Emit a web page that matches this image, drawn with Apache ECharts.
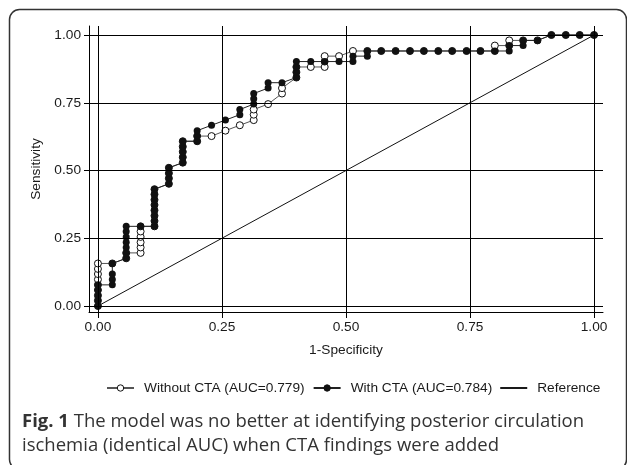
<!DOCTYPE html>
<html><head><meta charset="utf-8">
<script src="https://cdn.jsdelivr.net/npm/echarts@6/dist/echarts.min.js"></script>
<style>html,body{margin:0;padding:0;background:#fff}#c{width:627px;height:465px}</style>
</head><body><div id="c"></div><script>
// ---- data ----
const tickValues = [0, 0.25, 0.5, 0.75, 1];
const tickLabels = ['0.00', '0.25', '0.50', '0.75', '1.00'];
const seriesNames = ['Without CTA (AUC=0.779)', 'With CTA (AUC=0.784)', 'Reference'];
// [1-specificity, sensitivity]
const withoutCTA = [
  [0,0],[0,0.020],[0,0.039],[0,0.059],[0,0.078],[0,0.098],[0,0.118],[0,0.137],[0,0.157],
  [0.029,0.157],
  [0.057,0.176],[0.057,0.196],
  [0.086,0.196],[0.086,0.216],[0.086,0.235],[0.086,0.255],[0.086,0.275],[0.086,0.294],
  [0.114,0.294],[0.114,0.314],[0.114,0.333],[0.114,0.353],[0.114,0.373],[0.114,0.392],[0.114,0.412],[0.114,0.431],
  [0.143,0.451],[0.143,0.471],[0.143,0.490],[0.143,0.510],
  [0.171,0.529],[0.171,0.549],[0.171,0.569],[0.171,0.588],[0.171,0.608],
  [0.200,0.608],[0.200,0.627],
  [0.229,0.627],
  [0.257,0.647],
  [0.286,0.667],
  [0.314,0.686],[0.314,0.706],[0.314,0.725],
  [0.343,0.745],
  [0.371,0.784],[0.371,0.804],
  [0.400,0.843],[0.400,0.863],[0.400,0.882],
  [0.429,0.882],
  [0.457,0.882],[0.457,0.902],[0.457,0.922],
  [0.486,0.922],
  [0.514,0.941],[0.543,0.941],[0.571,0.941],[0.600,0.941],[0.629,0.941],[0.657,0.941],[0.686,0.941],[0.714,0.941],[0.743,0.941],[0.771,0.941],
  [0.800,0.941],[0.800,0.961],
  [0.829,0.961],[0.829,0.980],
  [0.857,0.980],[0.886,0.980],
  [0.914,1],[0.943,1],[0.971,1],[1,1]
];
const withCTA = [
  [0,0],[0,0.020],[0,0.039],[0,0.059],[0,0.078],
  [0.029,0.078],[0.029,0.098],[0.029,0.118],[0.029,0.157],
  [0.057,0.176],[0.057,0.196],[0.057,0.216],[0.057,0.235],[0.057,0.255],[0.057,0.275],[0.057,0.294],
  [0.086,0.294],
  [0.114,0.294],[0.114,0.314],[0.114,0.333],[0.114,0.353],[0.114,0.373],[0.114,0.392],[0.114,0.412],[0.114,0.431],
  [0.143,0.451],[0.143,0.471],[0.143,0.490],[0.143,0.510],
  [0.171,0.529],[0.171,0.549],[0.171,0.569],[0.171,0.588],[0.171,0.608],
  [0.200,0.608],[0.200,0.627],[0.200,0.647],
  [0.229,0.667],
  [0.257,0.686],
  [0.286,0.706],[0.286,0.725],
  [0.314,0.745],[0.314,0.765],[0.314,0.784],
  [0.343,0.804],[0.343,0.824],
  [0.371,0.824],
  [0.400,0.843],[0.400,0.863],[0.400,0.882],[0.400,0.902],
  [0.429,0.902],[0.457,0.902],[0.486,0.902],
  [0.514,0.902],[0.514,0.922],
  [0.543,0.922],[0.543,0.941],
  [0.571,0.941],[0.600,0.941],[0.629,0.941],[0.657,0.941],[0.686,0.941],[0.714,0.941],[0.743,0.941],[0.771,0.941],[0.800,0.941],
  [0.829,0.941],[0.829,0.961],
  [0.857,0.961],[0.857,0.980],
  [0.886,0.980],
  [0.914,1],[0.943,1],[0.971,1],[1,1]
];
const reference = [[0,0],[1,1]];
const captionBold = 'Fig. 1';
const captionLines = [
  ' The model was no better at identifying posterior circulation',
  'ischemia (identical AUC) when CTA findings were added'
];

// ---- chart ----
const chart = echarts.init(document.getElementById('c'), null, {renderer: 'canvas'});
const font = "'Liberation Sans', Arial, Helvetica, sans-serif";
const ink = '#1a1a1a';
const fs = 13.7;
const labelFmt = v => {
  const i = tickValues.findIndex(t => Math.abs(t - v) < 1e-9);
  return i >= 0 ? tickLabels[i] : '';
};
const axisCommon = {
  type: 'value',
  nameLocation: 'middle',
  nameTextStyle: {fontSize: fs, fontFamily: font, color: ink},
  axisLine: {show: true, onZero: false, lineStyle: {color: '#000', width: 1}},
  axisTick: {show: true, customValues: tickValues, lineStyle: {color: '#000', width: 1}},
  axisLabel: {customValues: tickValues, formatter: labelFmt, fontSize: fs, fontFamily: font, color: ink},
  splitLine: {show: false}
};
const option = {
  animation: false,
  backgroundColor: '#fff',
  grid: {left: 89, right: 24, top: 26, bottom: 153, outerBoundsMode: 'none'},
  xAxis: Object.assign({}, axisCommon, {
    min: -0.018, max: 1.018, name: '1-Specificity', nameGap: 31,
    axisTick: Object.assign({}, axisCommon.axisTick, {length: 6}),
    axisLabel: Object.assign({}, axisCommon.axisLabel, {margin: 8})
  }),
  yAxis: Object.assign({}, axisCommon, {
    min: -0.0221, max: 1.0332, name: 'Sensitivity', nameGap: 34,
    axisTick: Object.assign({}, axisCommon.axisTick, {length: 5}),
    axisLabel: Object.assign({}, axisCommon.axisLabel, {margin: 8})
  }),
  legend: {
    left: 101, top: 376, itemWidth: 27, itemHeight: 8, itemGap: 8,
    itemStyle: {borderWidth: 1},
    textStyle: {fontSize: fs, fontFamily: font, color: ink, padding: [0, 0, 0, 5]},
    data: [
      {name: seriesNames[0]},
      {name: seriesNames[1]},
      {name: seriesNames[2], icon: 'path://M0,0H27V1.8H0Z', itemStyle: {color: '#000'}}
    ]
  },
  series: [
    {
      name: seriesNames[2], type: 'line', data: reference, symbol: 'none', z: 1,
      lineStyle: {color: '#111', width: 1}, itemStyle: {color: '#000'},
      markLine: {
        silent: true, symbol: ['none', 'none'], label: {show: false},
        lineStyle: {color: '#000', width: 1, type: 'solid'},
        emphasis: {disabled: true},
        data: tickValues.map(v => ({xAxis: v})).concat(tickValues.map(v => ({yAxis: v})))
      }
    },
    {
      name: seriesNames[0], type: 'line', data: withoutCTA, z: 2,
      symbol: 'circle', symbolSize: 7, showAllSymbol: true,
      lineStyle: {color: '#555', width: 1},
      itemStyle: {color: '#fff', borderColor: '#111', borderWidth: 1}
    },
    {
      name: seriesNames[1], type: 'line', data: withCTA, z: 3,
      symbol: 'circle', symbolSize: 7, showAllSymbol: true,
      lineStyle: {color: '#222', width: 1},
      itemStyle: {color: '#111', borderColor: '#111', borderWidth: 0}
    }
  ],
  graphic: [
    {type: 'rect', silent: true, shape: {x: 9.5, y: 9.5, width: 617, height: 460, r: 10},
     style: {fill: 'none', stroke: '#333', lineWidth: 1.5}},
    {type: 'text', silent: true, x: 22, y: 422,
     style: {text: '{b|' + captionBold + '}' + captionLines[0], fill: '#333',
       font: "18.5px 'Open Sans', 'Noto Sans', sans-serif", verticalAlign: 'middle',
       rich: {b: {fontWeight: 'bold', fontSize: 18.5, fontFamily: "'Open Sans', 'Noto Sans', sans-serif", fill: '#333'}}}},
    {type: 'text', silent: true, x: 22, y: 446,
     style: {text: captionLines[1], fill: '#333',
       font: "18.5px 'Open Sans', 'Noto Sans', sans-serif", verticalAlign: 'middle'}}
  ]
};
chart.setOption(option);
</script></body></html>
